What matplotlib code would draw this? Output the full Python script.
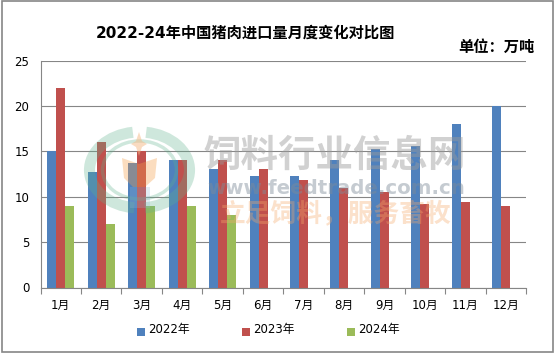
import matplotlib
matplotlib.use('Agg')
import matplotlib.pyplot as plt
import numpy as np
from matplotlib.patches import Rectangle, Arc, Polygon
from matplotlib.transforms import IdentityTransform

plt.rcParams['font.family'] = ['DejaVu Sans', 'Noto Sans CJK SC']

months = ['1月', '2月', '3月', '4月', '5月', '6月', '7月', '8月', '9月', '10月', '11月', '12月']
y2022 = [15, 12.7, 13.7, 14, 13, 12.3, 12.3, 14, 15.3, 15.6, 18, 20]
y2023 = [22, 16, 15, 14, 14, 13, 11.8, 11, 10.5, 9.2, 9.4, 9]
y2024 = [9, 7, 9, 9, 8]
yticks = [0, 5, 10, 15, 20, 25]

W, H = 555, 354
fig = plt.figure(figsize=(W / 100, H / 100), dpi=100)
ax = fig.add_axes([40.5 / W, 1 - 287.5 / H, 485.5 / W, 227 / H])

width = 0.222
x = np.arange(12)
ax.bar(x - width, y2022, width, color='#4F81BD', zorder=2)
ax.bar(x, y2023, width, color='#C0504D', zorder=2)
ax.bar(x[:5] + width, y2024, width, color='#9BBB59', zorder=2)

ax.set_xlim(-0.5, 11.5)
ax.set_ylim(0, 25)
ax.set_yticks(yticks)
ax.yaxis.grid(True, color='#868686', lw=0.8, zorder=1)
ax.set_axisbelow(True)
ax.set_xticks(np.arange(-0.5, 12, 1))
ax.set_xticklabels([])
ax.set_xticks(x, months, minor=True)
ax.tick_params(axis='x', which='major', length=4, width=0.8, color='#868686', direction='out')
ax.tick_params(axis='x', which='minor', length=0, pad=8.5, labelsize=8.5)
ax.tick_params(axis='y', length=0, pad=8, labelsize=8.5)
for s in ['top', 'right']:
    ax.spines[s].set_visible(False)
for s in ['left', 'bottom']:
    ax.spines[s].set_color('#868686')
    ax.spines[s].set_linewidth(0.8)


def fx(px):
    return px / W


def fy(py):
    return 1 - py / H


# watermark logo, sits on top of the bars
px_trans = IdentityTransform()
for rx, ry, lw, t1, t2 in [(50, 38, 8, 100, 262), (50, 38, 8, -82, 80), (37, 29, 2.5, 0, 360)]:
    fig.add_artist(Arc((139.5, H - 170), 2 * rx, 2 * ry, theta1=t1, theta2=t2, lw=lw, color='#5FB28C',
                       alpha=0.3, transform=px_trans, zorder=5))
wheat = [(122, 158), (139, 164), (157, 158), (155, 178), (145, 187), (133, 187), (124, 178)]
star = [(139, 132), (142, 141), (147, 144), (142, 147), (139, 156), (136, 147), (131, 144), (136, 141)]
stem = [(130, 187), (150, 187), (150, 208), (130, 208)]
for pts, col, a in [(wheat, '#F5A04A', 0.35), (star, '#F5B884', 0.5), (stem, '#8FB8D8', 0.25)]:
    fig.add_artist(Polygon([(p, H - q) for p, q in pts], fc=col, ec='none', alpha=a,
                           transform=px_trans, zorder=5))

fig.text(fx(335), fy(157), '饲料行业信息网', fontsize=27, fontweight='bold', color='#9A9A9A',
         alpha=0.45, ha='center', va='center', zorder=5)
fig.text(fx(336), fy(188), 'www.feedtrade.com.cn', fontsize=14.2, fontweight='bold', color='#7F8C99',
         alpha=0.45, ha='center', va='center', zorder=5)
fig.text(fx(336), fy(214), '立足饲料，服务畜牧', fontsize=18.5, fontweight='bold', color='#F5A96B',
         alpha=0.35, ha='center', va='center', zorder=5)

fig.text(fx(245), fy(33), '2022-24年中国猪肉进口量月度变化对比图', fontsize=11, fontweight='bold',
         ha='center', va='center')
fig.text(fx(496), fy(47), '单位：万吨', fontsize=11, fontweight='bold', ha='center', va='center')

# legend
for lx, col, lab in [(137, '#4F81BD', '2022年'), (242, '#C0504D', '2023年'), (347, '#9BBB59', '2024年')]:
    fig.add_artist(Rectangle((fx(lx), fy(336)), 8 / W, 8 / H, transform=fig.transFigure, fc=col, ec='none'))
    fig.text(fx(lx + 11), fy(329), lab, fontsize=8.5, ha='left', va='center')

fig.add_artist(Rectangle((fx(1.5), fy(352)), 551.5 / W, 351 / H, transform=fig.transFigure,
                         fc='none', ec='#868686', lw=1.2))

fig.savefig('out.png', dpi=100)
